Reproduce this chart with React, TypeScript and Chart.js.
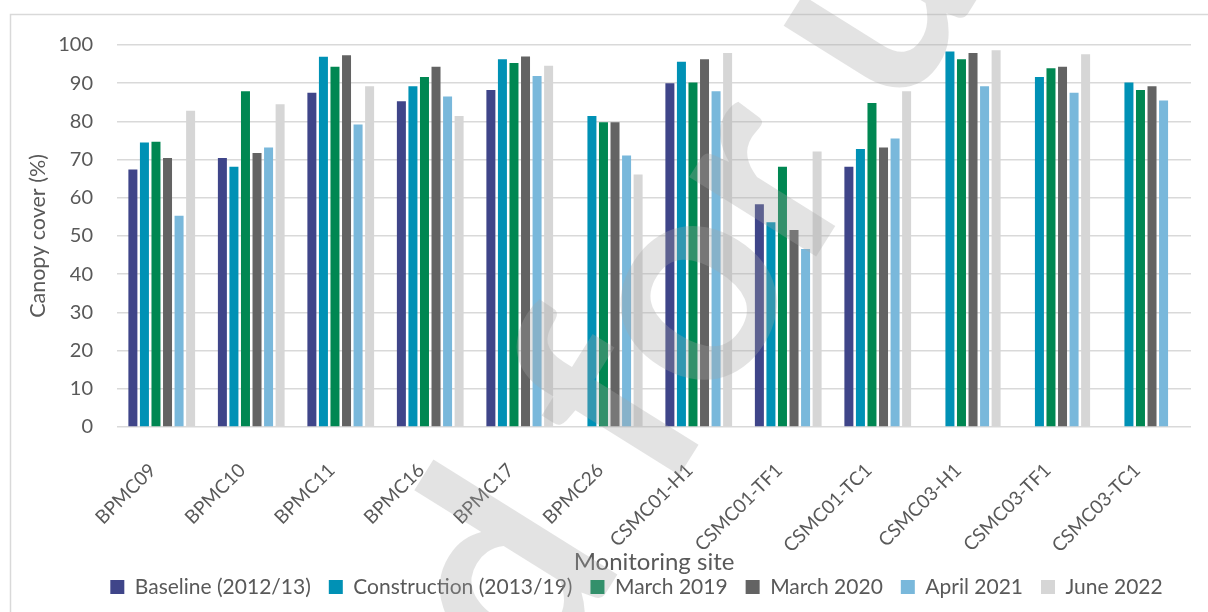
import React, { useEffect, useRef } from "react";
import { Chart, registerables } from "chart.js";

Chart.register(...registerables);

const categories = [
  "BPMC09", "BPMC10", "BPMC11", "BPMC16", "BPMC17", "BPMC26",
  "CSMC01-H1", "CSMC01-TF1", "CSMC01-TC1", "CSMC03-H1", "CSMC03-TF1", "CSMC03-TC1",
];

const baseline = [67.4, 70.4, 87.5, 85.3, 88.2, null, 90.0, 58.3, 68.1, null, null, null];
const construction = [74.5, 68.1, 96.9, 89.2, 96.3, 81.4, 95.6, 53.6, 72.8, 98.3, 91.6, 90.2];
const march2019 = [74.7, 87.9, 94.3, 91.6, 95.3, 79.8, 90.2, 68.1, 84.8, 96.3, 93.9, 88.2];
const march2020 = [70.4, 71.7, 97.3, 94.3, 97.0, 79.8, 96.3, 51.6, 73.2, 97.9, 94.3, 89.2];
const april2021 = [55.3, 73.2, 79.2, 86.5, 91.9, 71.1, 87.9, 46.6, 75.5, 89.2, 87.5, 85.5];
const june2022 = [82.8, 84.5, 89.2, 81.4, 94.6, 66.1, 97.9, 72.1, 87.9, 98.6, 97.6, null];

const seriesLabels = [
  "Baseline (2012/13)", "Construction (2013/19)", "March 2019",
  "March 2020", "April 2021", "June 2022",
];
const seriesColors = ["#3F4589", "#0091B5", "#008752", "#636363", "#79B8DB", "#D6D6D6"];
const seriesValues = [baseline, construction, march2019, march2020, april2021, june2022];

const yTitle = "Canopy cover (%)";
const xTitle = "Monitoring site";
const watermarkText = "d for use";

const FONT = "Lato, 'Noto Sans', sans-serif";
const TEXT = "#595959";

const framePlugin = {
  id: "frame",
  beforeDraw(chart: any) {
    const ctx = chart.ctx;
    ctx.save();
    ctx.strokeStyle = "#D9D9D9";
    ctx.lineWidth = 1.5;
    ctx.beginPath();
    ctx.moveTo(10.5, 700);
    ctx.lineTo(10.5, 14.5);
    ctx.lineTo(1300, 14.5);
    ctx.stroke();
    ctx.restore();
  },
  afterLayout(chart: any) {
    const lg = chart.legend;
    if (lg) {
      lg.left += 30;
      lg.right += 30;
    }
  },
};

const watermarkPlugin = {
  id: "watermark",
  afterDraw(chart: any) {
    const ctx = chart.ctx;
    ctx.save();
    ctx.translate(539, 700);
    ctx.rotate((-58 * Math.PI) / 180);
    ctx.font = "bold 292px Lato, sans-serif";
    ctx.fillStyle = "rgba(165,165,165,0.31)";
    ctx.textAlign = "left";
    ctx.textBaseline = "alphabetic";
    ctx.fillText(watermarkText, 0, 0);
    ctx.restore();
  },
};

export default function App() {
  const ref = useRef<HTMLCanvasElement | null>(null);

  useEffect(() => {
    if (!ref.current) return;
    Chart.defaults.font.family = FONT;
    const chart = new Chart(ref.current, {
      type: "bar",
      data: {
        labels: categories,
        datasets: seriesValues.map((vals, i) => ({
          label: seriesLabels[i],
          data: vals,
          backgroundColor: seriesColors[i],
          borderWidth: 0,
          categoryPercentage: 0.774,
          barPercentage: 0.78,
        })),
      },
      options: {
        responsive: false,
        animation: false,
        layout: { padding: { left: 22, right: 17, top: 45, bottom: 4.5 } },
        plugins: {
          legend: {
            position: "bottom",
            labels: {
              boxWidth: 14,
              boxHeight: 14,
              padding: 18,
              color: TEXT,
              font: { size: 21, family: FONT },
            },
          },
          tooltip: { enabled: false },
        },
        scales: {
          x: {
            grid: { display: false },
            border: { display: false },
            ticks: {
              autoSkip: false,
              maxRotation: 45,
              minRotation: 45,
              color: TEXT,
              font: { size: 19, family: FONT },
              padding: 24,
              labelOffset: -9,
            },
            title: {
              display: true,
              text: xTitle,
              color: TEXT,
              font: { size: 24, family: FONT },
              padding: { top: 0, bottom: -18 },
            },
            afterFit: (scale: any) => {
              scale.height = 131.5;
            },
          },
          y: {
            min: 0,
            max: 100,
            ticks: {
              stepSize: 10,
              color: TEXT,
              font: { size: 20, family: FONT },
              padding: 24,
            },
            grid: { color: "#D9D9D9", lineWidth: 1.5, drawTicks: false },
            border: { display: false },
            title: {
              display: true,
              text: yTitle,
              color: TEXT,
              font: { size: 21.5, family: FONT },
              padding: { top: 3, bottom: 0 },
            },
            afterFit: (scale: any) => {
              scale.width = 95;
            },
          },
        },
      },
      plugins: [framePlugin, watermarkPlugin],
    });
    return () => chart.destroy();
  }, []);

  return (
    <div style={{ position: "fixed", left: 0, top: 0, width: 1208, height: 612, background: "#fff" }}>
      <canvas ref={ref} width={1208} height={612} style={{ display: "block" }} />
    </div>
  );
}
